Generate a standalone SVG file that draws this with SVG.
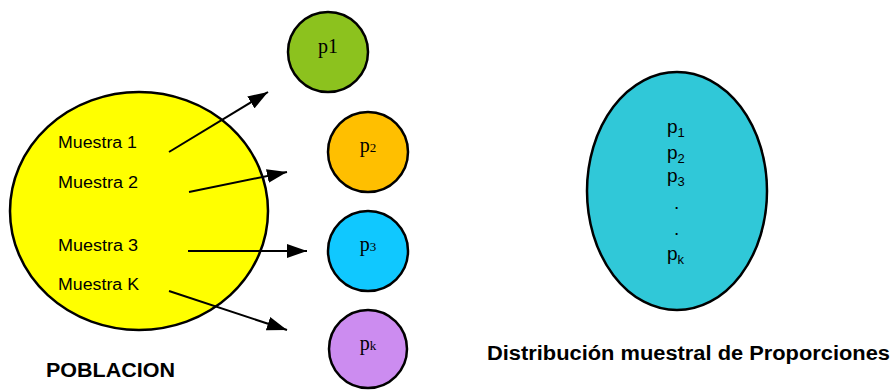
<svg xmlns="http://www.w3.org/2000/svg" width="894" height="390" viewBox="0 0 894 390">
<defs>
<style>
.node{stroke:#000;stroke-width:2.5}
.lbl{font-family:"Liberation Sans",Arial,sans-serif;font-size:16px;fill:#000}
.pv{font-family:"Liberation Serif","Times New Roman",serif;font-size:20px;fill:#000;text-anchor:middle}
.pe{font-family:"Liberation Sans",Arial,sans-serif;font-size:19px;fill:#000}
.sub{font-size:13px}
.cap{font-family:"Liberation Sans",Arial,sans-serif;font-weight:bold;fill:#000}
.con{stroke:#000;stroke-width:2;fill:none}
</style>
<marker id="ah" viewBox="0 0 20 14" refX="20" refY="7" markerWidth="20" markerHeight="14" markerUnits="userSpaceOnUse" orient="auto">
<path d="M0,0 L20,7 L0,14 z" fill="#000"/>
</marker>
</defs>
<rect width="894" height="390" fill="#fff"/>
<g id="poblacion">
<ellipse class="node" cx="139" cy="211" rx="129" ry="119" fill="#FFFF00"/>
<text class="lbl" x="58" y="148" textLength="79" lengthAdjust="spacingAndGlyphs">Muestra 1</text>
<text class="lbl" x="58" y="188" textLength="80" lengthAdjust="spacingAndGlyphs">Muestra 2</text>
<text class="lbl" x="58" y="251" textLength="80" lengthAdjust="spacingAndGlyphs">Muestra 3</text>
<text class="lbl" x="58" y="290" textLength="81" lengthAdjust="spacingAndGlyphs">Muestra K</text>
<text class="cap" x="46" y="377" font-size="21" textLength="129" lengthAdjust="spacingAndGlyphs">POBLACION</text>
</g>
<g id="p1">
<circle class="node" cx="328" cy="52" r="40" fill="#8CC21E"/>
<text class="pv" x="328" y="53">p1</text>
</g>
<g id="p2">
<circle class="node" cx="368" cy="152" r="40" fill="#FFBF00"/>
<text class="pv" x="368" y="152">p<tspan class="sub">2</tspan></text>
</g>
<g id="p3">
<circle class="node" cx="368" cy="251" r="40" fill="#10C8FF"/>
<text class="pv" x="368" y="251">p<tspan class="sub">3</tspan></text>
</g>
<g id="pk">
<circle class="node" cx="368" cy="349" r="39" fill="#CC8CF0"/>
<text class="pv" x="368" y="350">p<tspan class="sub">k</tspan></text>
</g>
<g id="distribucion">
<ellipse class="node" cx="677" cy="191" rx="90" ry="119" fill="#30C8D8"/>
<text class="pe" x="667" y="133">p<tspan class="sub" dy="4">1</tspan></text>
<text class="pe" x="667" y="159">p<tspan class="sub" dy="4">2</tspan></text>
<text class="pe" x="667" y="182">p<tspan class="sub" dy="4">3</tspan></text>
<text class="pe" x="674" y="209">.</text>
<text class="pe" x="674" y="235">.</text>
<text class="pe" x="667" y="260">p<tspan class="sub" dy="4">k</tspan></text>
<text class="cap" x="487" y="360" font-size="20" textLength="403" lengthAdjust="spacingAndGlyphs">Distribución muestral de Proporciones</text>
</g>
<g id="connectors">
<line class="con" x1="169" y1="152" x2="268" y2="92" marker-end="url(#ah)"/>
<line class="con" x1="189" y1="192" x2="287" y2="172" marker-end="url(#ah)"/>
<line class="con" x1="188" y1="251" x2="307" y2="251" marker-end="url(#ah)"/>
<line class="con" x1="169" y1="291" x2="287" y2="330" marker-end="url(#ah)"/>
</g>
</svg>
